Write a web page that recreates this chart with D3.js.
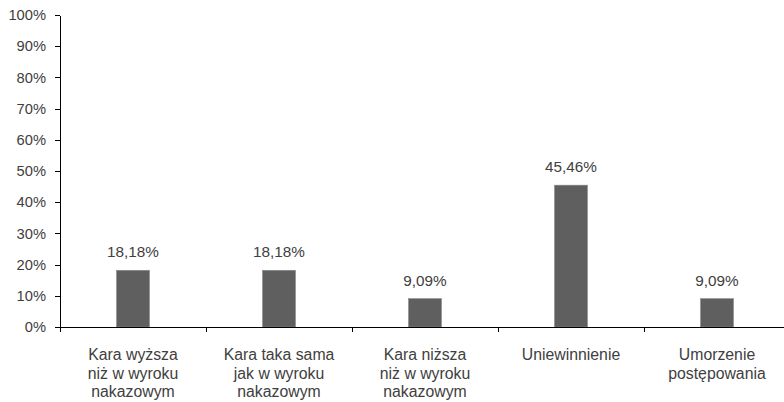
<!DOCTYPE html>
<html lang="pl">
<head>
<meta charset="UTF-8">
<script src="https://d3js.org/d3.v7.min.js"></script>
<style>
  body { margin: 0; background: #fff; }
  svg { display: block; }
  text { font-family: "Liberation Sans", Arial, sans-serif; font-size: 15.3px; fill: #404040; }
  .axis path, .axis line { stroke: #000; shape-rendering: crispEdges; }
</style>
</head>
<body>
<script>
// data
var categories = [
  ["Kara wyższa", "niż w wyroku", "nakazowym"],
  ["Kara taka sama", "jak w wyroku", "nakazowym"],
  ["Kara niższa", "niż w wyroku", "nakazowym"],
  ["Uniewinnienie"],
  ["Umorzenie", "postępowania"]
];
var values = [18.18, 18.18, 9.09, 45.46, 9.09];
var yTicks = [0, 10, 20, 30, 40, 50, 60, 70, 80, 90, 100];

var width = 784, height = 402;
var plotLeft = 60, plotTop = 15, plotBottom = 327, plotRight = 790;

var svg = d3.select("body").append("svg")
    .attr("width", width)
    .attr("height", height);

var x = d3.scaleBand()
    .domain(d3.range(categories.length))
    .range([plotLeft, plotRight])
    .paddingInner(0)
    .paddingOuter(0);

var y = d3.scaleLinear().domain([0, 100]).range([plotBottom, plotTop]);

var fmt = function(v) { return v.toFixed(2).replace(".", ",") + "%"; };

// bars
var barW = 33;
svg.selectAll(".bar")
    .data(values)
  .enter().append("rect")
    .attr("class", "bar")
    .attr("x", function(d, i) { return x(i) + x.bandwidth() / 2 - barW / 2; })
    .attr("y", function(d) { return y(d); })
    .attr("width", barW)
    .attr("height", function(d) { return y(0) - y(d); })
    .style("fill", "#5f5f5f")
    .style("stroke", "#8a8a8a")
    .style("stroke-width", 0.6);

// value labels
svg.selectAll(".val")
    .data(values)
  .enter().append("text")
    .attr("class", "val")
    .attr("x", function(d, i) { return x(i) + x.bandwidth() / 2; })
    .attr("y", function(d) { return y(d) - 13; })
    .attr("text-anchor", "middle")
    .text(fmt);

// y axis
var yAxis = svg.append("g")
    .attr("class", "axis")
    .attr("transform", "translate(" + plotLeft + ",0)")
    .call(d3.axisLeft(y).tickValues(yTicks).tickSize(5).tickSizeOuter(0)
      .tickFormat(function(d) { return d + "%"; }));
yAxis.selectAll("text").attr("x", -14).style("font-size", "14.7px").style("fill", "#404040")
    .style("font-family", "Liberation Sans, Arial, sans-serif");

// x axis
var xAxis = svg.append("g")
    .attr("class", "axis")
    .attr("transform", "translate(0," + plotBottom + ")");
xAxis.append("line")
    .attr("x1", plotLeft).attr("x2", plotRight)
    .attr("y1", 0).attr("y2", 0)
    .style("stroke", "#000");
xAxis.selectAll(".xt")
    .data(d3.range(categories.length + 1))
  .enter().append("line")
    .attr("class", "xt")
    .attr("x1", function(i) { return plotLeft + i * x.bandwidth(); })
    .attr("x2", function(i) { return plotLeft + i * x.bandwidth(); })
    .attr("y1", 0).attr("y2", 5)
    .style("stroke", "#000");

// category labels
var cat = svg.selectAll(".cat")
    .data(categories)
  .enter().append("text")
    .attr("class", "cat")
    .attr("text-anchor", "middle")
    .style("font-size", "15.8px")
    .attr("transform", function(d, i) { return "translate(" + (x(i) + x.bandwidth() / 2) + ",360)"; });
cat.selectAll("tspan")
    .data(function(d) { return d; })
  .enter().append("tspan")
    .attr("x", 0)
    .attr("y", function(d, i) { return i * 18.5; })
    .text(function(d) { return d; });
</script>
</body>
</html>
